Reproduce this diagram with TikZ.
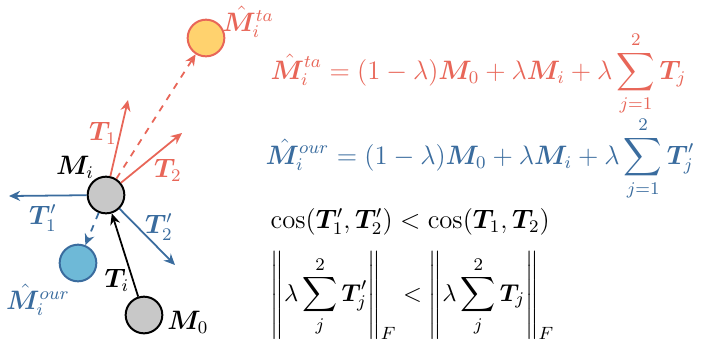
\documentclass[tikz,border=0pt]{standalone}
\usepackage{amsmath}
\usepackage{bm}
\usepackage{tikz}
\usetikzlibrary{arrows.meta}
\definecolor{tared}{RGB}{232,102,88}
\definecolor{ourblue}{RGB}{58,108,158}
\definecolor{tafill}{RGB}{255,210,110}
\definecolor{ourfill}{RGB}{110,185,215}
\definecolor{modelgray}{RGB}{200,200,200}
\tikzset{
  model/.style={circle, draw, line width=0.9pt, minimum size=16.5pt, inner sep=0},
  vec/.style={-{Stealth[length=5pt,width=4.5pt]}, line width=0.8pt}
}

\begin{document}
\begin{tikzpicture}[
  x=0.45pt, y=-0.45pt,
  % merged model points
  base/.style   = {model, fill=modelgray, draw=black},
  tamodel/.style= {model, fill=tafill, draw=tared},
  ourmodel/.style={model, fill=ourfill, draw=ourblue},
  % task vectors
  tavec/.style  = {vec, draw=tared},
  ourvec/.style = {vec, draw=ourblue},
  % text labels
  lab/.style    = {inner sep=1pt, font=\fontsize{12}{14}\selectfont},
]
\useasboundingbox (0,0) rectangle (707,341);

% ──────────────────────────
%  Model points
% ──────────
\node[base]     (m0)   at (144,315) {};
\node[base]     (mi)   at (106,195) {};
\node[tamodel]  (mta)  at (206,38)  {};
\node[ourmodel] (mour) at (78,263)  {};

% free ends of the task vectors
\coordinate (t1tip)  at (128,100);
\coordinate (t2tip)  at (182,133);
\coordinate (t1ptip) at (9,196);
\coordinate (t2ptip) at (175,265);

% ──────────────────────────
%  Vectors
% ──────────
\draw[vec, draw=black] (m0) -- (mi);
\draw[tavec] (mi) -- (t1tip);
\draw[tavec] (mi) -- (t2tip);
\draw[tavec, dashed] (mi) -- (mta);
\draw[ourvec] (mi) -- (t1ptip);
\draw[ourvec] (mi) -- (t2ptip);
\draw[ourvec, dashed] (mi) -- (mour);

% ──────────────────────────
%  Labels
% ──────────
\node[lab] (lmi)   at (75,167)  {$\bm{M}_i$};
\node[lab] (lm0)   at (188,322) {$\bm{M}_0$};
\node[lab] (lti)   at (117,280) {$\bm{T}_i$};
\node[lab, text=tared] (lt1) at (103,133) {$\bm{T}_1$};
\node[lab, text=tared] (lt2) at (168,170) {$\bm{T}_2$};
\node[lab, text=ourblue] (lt1p) at (43,218)  {$\bm{T}'_1$};
\node[lab, text=ourblue] (lt2p) at (159,227) {$\bm{T}'_2$};
\node[lab, text=tared]   (lmta)  at (248,22)  {$\hat{\bm{M}}_i^{ta}$};
\node[lab, text=ourblue] (lmour) at (38,300)  {$\hat{\bm{M}}_i^{our}$};

% ──────────────────────────
%  Formulas
% ──────────
\node[lab, anchor=base west, text=tared] (eqta) at (268,79)
  {$\displaystyle \hat{\bm{M}}_i^{ta} = (1-\lambda)\bm{M}_0 + \lambda\bm{M}_i
     + \lambda\sum_{j=1}^{2}\bm{T}_j$};
\node[lab, anchor=base west, text=ourblue] (eqour) at (263,164)
  {$\displaystyle \hat{\bm{M}}_i^{our} = (1-\lambda)\bm{M}_0 + \lambda\bm{M}_i
     + \lambda\sum_{j=1}^{2}\bm{T}'_j$};
\node[lab, anchor=base west] (eqcos) at (268,228)
  {$\cos(\bm{T}'_1,\bm{T}'_2) < \cos(\bm{T}_1,\bm{T}_2)$};
\node[lab, anchor=base west, font=\fontsize{10.95}{13}\selectfont] (eqnorm) at (268,301)
  {$\displaystyle \left\|\lambda\sum_{j}^{2}\bm{T}'_j\right\|_F <
     \left\|\lambda\sum_{j}^{2}\bm{T}_j\right\|_F$};

\end{tikzpicture}
\end{document}
